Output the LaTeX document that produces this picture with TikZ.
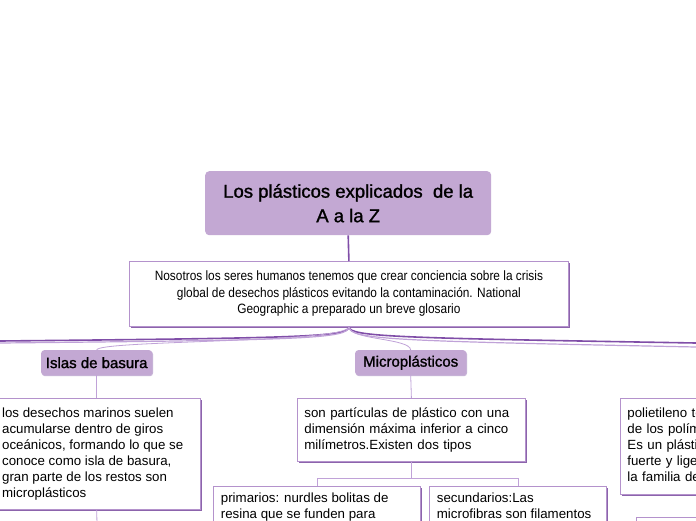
\documentclass[tikz,border=0pt]{standalone}
\usepackage{fontspec}
\setmainfont{Liberation Sans}
\newfontfamily\condfont[FakeStretch=0.88]{Liberation Sans}
\newfontfamily\medfont[FakeBold=1.3]{Liberation Sans}
\usetikzlibrary{shadows}
\definecolor{lila}{RGB}{195,168,211}
\definecolor{lilaborder}{RGB}{180,146,204}
\definecolor{lilashadow}{RGB}{140,100,172}
\definecolor{lilaline}{RGB}{128,78,168}
\definecolor{lilathin}{RGB}{192,162,216}
\begin{document}
\begin{tikzpicture}[x=1pt,y=-1pt,
  titlebox/.style={fill=lila, rounded corners=4pt, draw=none, align=center, font=\medfont\fontsize{18.5}{24.5}\selectfont, inner sep=0pt},
  tagbox/.style={fill=lila, rounded corners=3pt, draw=none, align=center, font=\medfont\fontsize{15}{16}\selectfont, inner sep=0pt,
     drop shadow={shadow xshift=0.8pt, shadow yshift=-1pt, fill=lilashadow!60, opacity=0.8}},
  textbox/.style={fill=white, draw=lilaborder, line width=0.8pt, align=left, font=\fontsize{13.3}{16}\selectfont, inner sep=0pt,
     drop shadow={shadow xshift=1.6pt, shadow yshift=-1.6pt, fill=lilashadow, opacity=1}},
  thick link/.style={draw=lilaline, line width=1.6pt},
  thin link/.style={draw=lilathin, line width=0.8pt}
]
\useasboundingbox (0,0) rectangle (696,520);
\clip (0,0) rectangle (696,520);
\fill[white] (0,0) rectangle (696,520);

% nodes
\node[titlebox, minimum width=286pt, minimum height=64pt, anchor=north west] (title) at (205,171)
  {Los plásticos explicados\ \ de la\\A a la Z};
\node[textbox, align=center, minimum width=439pt, minimum height=65pt, anchor=north west, font=\condfont\fontsize{13.5}{16.5}\selectfont] (desc) at (129,261)
  {Nosotros los seres humanos tenemos que crear conciencia sobre la crisis\\
   global de desechos plásticos evitando la contaminación. National\\
   Geographic a preparado un breve glosario};
\node[tagbox, minimum width=111pt, minimum height=25pt, anchor=north west] (islas) at (41,350) {Islas de basura};
\node[tagbox, minimum width=111pt, minimum height=25pt, anchor=north west] (micro) at (355,350) {Microplásticos};

\node[textbox, minimum width=220pt, minimum height=111pt, anchor=north west, inner xsep=0pt] (islastxt) at (-20,398)
  {\hspace*{17.5pt}\parbox{194pt}{los desechos marinos suelen\\acumularse dentro de giros\\oceánicos, formando lo que se\\conoce como isla de basura,\\gran parte de los restos son\\microplásticos}};
\node[textbox, minimum width=226pt, minimum height=63pt, anchor=north west, text width=214pt, inner xsep=7pt] (microtxt) at (297,398)
  {son partículas de plástico con una\\dimensión máxima inferior a cinco\\milímetros.Existen dos tipos};
\node[textbox, minimum width=207pt, anchor=north west, inner xsep=7.5pt, inner ysep=0pt] (prim) at (213,486)
  {\parbox[c][80pt][t]{192pt}{\vspace*{6pt}primarios: nurdles bolitas de\\resina que se funden para\\fabricar productos plásticos}};
\node[textbox, minimum width=177pt, anchor=north west, inner xsep=7.5pt, inner ysep=0pt] (sec) at (429,486)
  {\parbox[c][80pt][t]{162pt}{\vspace*{6pt}secundarios:Las\\microfibras son filamentos\\de plástico}};
\node[textbox, minimum width=230pt, minimum height=96pt, anchor=north west, text width=220pt, inner xsep=7pt] (pet) at (620,398)
  {polietileno tereftalato, uno\\de los polímeros más usados.\\Es un plástico transparente,\\fuerte y ligero que pertenece a\\la familia de los poliésteres};
\node[textbox, minimum width=200pt, minimum height=60pt, anchor=north west] (extra) at (636,517) {};

% free ends
\coordinate (leftA) at (0,341);
\coordinate (leftB) at (0,343);
\coordinate (rightA) at (696,343);
\coordinate (rightB) at (696,347);
\coordinate (below) at (97,525);

% connectors
\draw[thick link] (title.south) -- (desc.north);
\draw[thick link] (desc.south) .. controls (349,337) and (300,338) .. (leftA);
\draw[draw=lilathin, line width=1.2pt] (desc.south) .. controls (349,339) and (300,340) .. (leftB);
\draw[thick link] (desc.south) .. controls (349,337) and (400,338) .. (rightA);
\draw[draw=lilathin, line width=1.2pt] (desc.south) .. controls (349,340) and (400,341) .. (rightB);
\draw[thin link] (desc.south) .. controls (349,343) and (97,340) .. (islas.north);
\draw[thin link] (desc.south) .. controls (349,340) and (410,338) .. (micro.north);
\draw[thin link] (islas.south) -- (islas.south |- islastxt.north);
\draw[thin link] (micro.south) -- (microtxt.north);
\draw[thin link] (islas.south |- islastxt.south) -- (below);
\draw[thin link] (microtxt.south) -- ++(0,17) -| (prim.north);
\draw[thin link] (microtxt.south) -- ++(0,17) -| (sec.north);
\end{tikzpicture}
\end{document}
